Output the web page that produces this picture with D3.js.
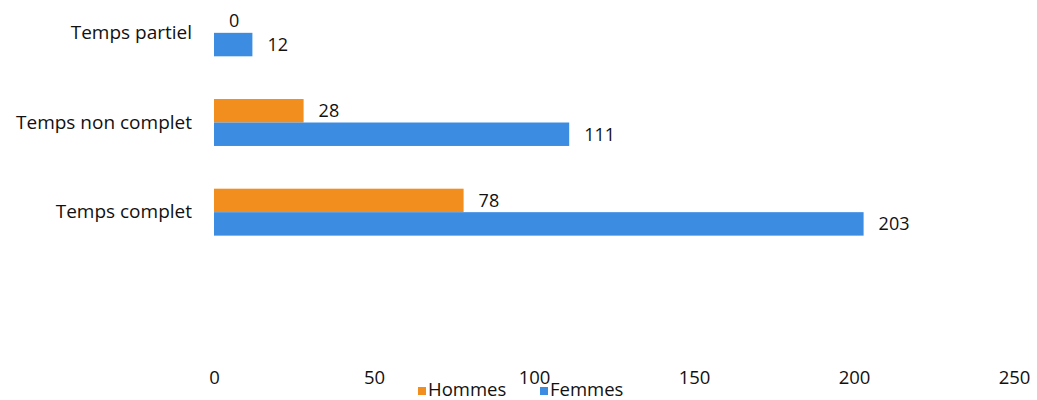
<!DOCTYPE html>
<meta charset="utf-8">
<style>
  body { margin: 0; background: #fff; }
  text { font-family: "Open Sans", Lato, sans-serif; fill: #111; }
</style>
<div id="chart_div"></div>
<script src="https://cdn.jsdelivr.net/npm/d3@7"></script>
<script>

// data
let categories = ["Temps partiel", "Temps non complet", "Temps complet"];
let series = ["Hommes", "Femmes"];
let hommes = [0, 28, 78];
let femmes = [12, 111, 203];
let x_ticks = [0, 50, 100, 150, 200, 250];
let colors = ["#F28E1E", "#3C8DE2"];

let container_width = 1037,
    container_height = 400;

let svg = d3.select("#chart_div")
  .append("svg")
    .attr("width", container_width)
    .attr("height", container_height);

let x = d3.scaleLinear()
  .domain([0, 250])
  .range([214, 1014]);

let y = d3.scaleBand()
  .domain(categories)
  .range([-12, 257])
  .padding(0);

let y_sub = d3.scaleBand()
  .domain(series)
  .range([0, y.bandwidth()])
  .paddingInner(0)
  .paddingOuter(0.91);

let color = d3.scaleOrdinal().domain(series).range(colors);

let rows = categories.map((c, i) => ({
  cat: c,
  values: [
    {key: "Hommes", value: hommes[i]},
    {key: "Femmes", value: femmes[i]}
  ]
}));

// x axis: labels only
let x_axis = svg.append("g")
  .attr("transform", "translate(0,371)")
  .call(d3.axisBottom(x).tickValues(x_ticks).tickSize(0).tickPadding(0));
x_axis.select(".domain").remove();
x_axis.selectAll("text")
  .style("font-size", "18.5px")
  .style("font-family", "'Open Sans', sans-serif")
  .attr("fill", "#222")
  .attr("dy", "0.71em");

// y axis: category labels only
let y_axis = svg.append("g")
  .attr("transform", "translate(192,0)")
  .call(d3.axisLeft(y).tickSize(0).tickPadding(0));
y_axis.select(".domain").remove();
y_axis.selectAll("text")
  .style("font-size", "19px")
  .style("font-family", "'Open Sans', sans-serif")
  .attr("fill", "#000");

// bars
let groups = svg.selectAll(".cat_group")
  .data(rows)
  .enter()
  .append("g")
    .attr("class", "cat_group")
    .attr("transform", d => "translate(0," + y(d.cat) + ")");

groups.selectAll("rect")
  .data(d => d.values)
  .enter()
  .append("rect")
    .attr("x", x(0))
    .attr("y", d => y_sub(d.key))
    .attr("width", d => x(d.value) - x(0))
    .attr("height", y_sub.bandwidth())
    .style("fill", d => color(d.key));

// value labels
groups.selectAll(".val_label")
  .data(d => d.values)
  .enter()
  .append("text")
    .attr("class", "val_label")
    .attr("x", d => x(d.value) + 15)
    .attr("y", d => y_sub(d.key) + y_sub.bandwidth() / 2)
    .attr("dy", "0.35em")
    .style("font-size", "18px")
    .text(d => d.value);

// legend
let legend = svg.append("g")
  .attr("transform", "translate(418,390)");
let legend_x = [0, 122];
series.forEach((s, i) => {
  legend.append("rect")
    .attr("x", legend_x[i])
    .attr("y", -3)
    .attr("width", 8)
    .attr("height", 8)
    .style("fill", color(s));
  legend.append("text")
    .attr("x", legend_x[i] + 10)
    .attr("y", 0)
    .attr("dy", "0.35em")
    .style("font-size", "18.5px")
    .attr("fill", "#444")
    .text(s);
});

</script>
